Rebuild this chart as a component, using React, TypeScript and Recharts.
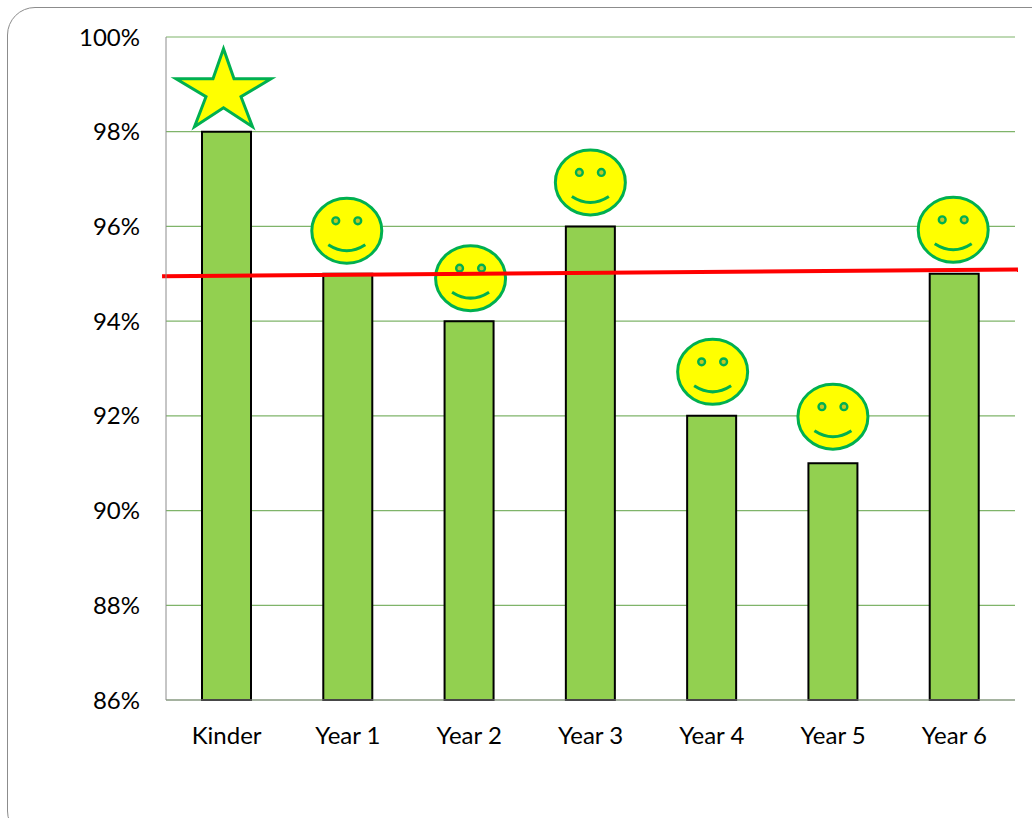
import { Bar, CartesianGrid, ComposedChart, Rectangle, ReferenceLine, XAxis, YAxis } from 'recharts';

const grades = ['Kinder', 'Year 1', 'Year 2', 'Year 3', 'Year 4', 'Year 5', 'Year 6'];
const attendance = [98, 95, 94, 96, 92, 91, 95];
const badges = ['star', 'smiley', 'smiley', 'smiley', 'smiley', 'smiley', 'smiley'];
const yTicks = [86, 88, 90, 92, 94, 96, 98, 100];
const trendStart = 94.95;
const trendEnd = 95.09;

const data = grades.map((grade, i) => ({ grade, attendance: attendance[i], badge: badges[i] }));

const GREEN = '#00B050';
const FONT = 'Lato, Carlito, sans-serif';

// hand-placed shapes in the original, so they don't sit exactly on the bars
const nudgeX = [0, -1, 1.5, 0, 1, 0, -1];
const nudgeY = [0, -43, -43, -44, -44, -46.5, -44];

function Badge({ x, y, width, index }: any) {
  const cx = Number(x) + Number(width) / 2;
  const top = Number(y);
  if (badges[index] === 'star') {
    const pts = [
      [0, -83], [10.5, -53], [47.5, -53], [17.5, -35], [29, -5],
      [0, -24], [-29, -5], [-17.5, -35], [-47.5, -53], [-10.5, -53],
    ];
    return (
      <polygon
        points={pts.map(([dx, dy]) => `${cx - 3 + dx},${top + dy}`).join(' ')}
        fill="#FFFF00"
        stroke={GREEN}
        strokeWidth={3}
      />
    );
  }
  const fx = cx + nudgeX[index];
  const fy = top + nudgeY[index];
  return (
    <g>
      <ellipse cx={fx} cy={fy} rx={35} ry={32.5} fill="#FFFF00" stroke={GREEN} strokeWidth={3} />
      <circle cx={fx - 11} cy={fy - 10} r={3.4} fill="#C8C820" stroke={GREEN} strokeWidth={2.4} />
      <circle cx={fx + 11} cy={fy - 10} r={3.4} fill="#C8C820" stroke={GREEN} strokeWidth={2.4} />
      <path
        d={`M ${fx - 18.5} ${fy + 14} Q ${fx} ${fy + 26} ${fx + 18.5} ${fy + 14}`}
        fill="none"
        stroke={GREEN}
        strokeWidth={3}
      />
    </g>
  );
}

// bar plus its badge, so the red line stays on top of both
function BarWithBadge(props: any) {
  return (
    <g>
      <Rectangle {...props} />
      <Badge x={props.x} y={props.y} width={props.width} index={props.index} />
    </g>
  );
}

export default function App() {
  return (
    <div style={{ position: 'absolute', left: 0, top: 0, width: 1032, height: 818, overflow: 'hidden', background: '#fff' }}>
      <div
        style={{
          position: 'absolute',
          left: 7,
          top: 7,
          width: 1060,
          height: 830,
          border: '1px solid #8c8c8c',
          borderRadius: 28,
        }}
      />
      <ComposedChart
        width={1032}
        height={818}
        data={data}
        margin={{ top: 37, right: 17, bottom: 0, left: 0 }}
        barCategoryGap={0}
        style={{ position: 'absolute', left: 0, top: 0 }}
      >
        <CartesianGrid vertical={false} stroke="#7FB46A" strokeWidth={1.2} />
        <XAxis
          dataKey="grade"
          height={118}
          interval={0}
          tickLine={false}
          tickMargin={21}
          stroke="#8c8c8c"
          tick={{ fill: '#000', fontSize: 24, fontFamily: FONT }}
        />
        {/* index axis, only there so the target line can run past the category bands */}
        <XAxis xAxisId="trend" type="number" domain={[0, 6]} hide />
        <YAxis
          width={166}
          domain={[86, 100]}
          ticks={yTicks}
          interval={0}
          tickLine={false}
          tickMargin={20}
          stroke="#8c8c8c"
          tickFormatter={(v: number) => `${v}%`}
          tick={{ fill: '#000', fontSize: 24, fontFamily: FONT }}
        />
        <Bar
          dataKey="attendance"
          barSize={49}
          fill="#92D050"
          stroke="#000"
          strokeWidth={2}
          isAnimationActive={false}
          shape={<BarWithBadge />}
        />
        <ReferenceLine
          xAxisId="trend"
          stroke="#FF0000"
          strokeWidth={4}
          ifOverflow="visible"
          segment={[
            { x: -0.028, y: trendStart },
            { x: 6.021, y: trendEnd },
          ]}
        />
      </ComposedChart>
    </div>
  );
}
